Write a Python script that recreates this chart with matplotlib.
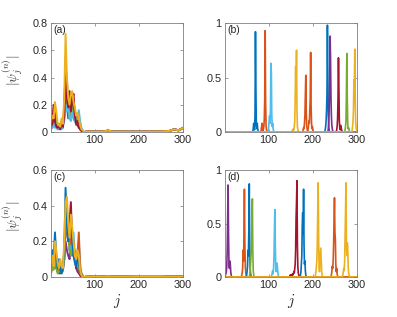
import matplotlib
matplotlib.use("Agg")
import matplotlib.pyplot as plt
import numpy as np

plt.rcParams['font.family'] = ['Liberation Sans', 'DejaVu Sans']
plt.rcParams['mathtext.fontset'] = 'cm'

# MATLAB default colour order
blue = '#0072BD'
orange = '#D95319'
yellow = '#EDB120'
purple = '#7E2F8E'
green = '#77AC30'
lblue = '#4DBEEE'
red = '#A2142F'

N = 300
j_all = np.arange(1, N + 1)

# ---- panels (a) and (c): extended states, sampled every 3 sites near the edge
j_head = np.arange(1, 80, 3)
j_tail = [82, 90, 100, 120, 130, 140, 200, 250, 270, 280, 290, 300]

a_colors = [blue, orange, purple, green, lblue, red, yellow]
a_head = [
    [.02, .10, .05, .12, .08, .03, .04, .02, .05, .03, .15, .30, .20, .10, .15, .12, .22, .10, .08, .12, .06, .10, .04, .02, .01, .00, .00],
    [.05, .03, .18, .10, .05, .02, .06, .03, .08, .04, .20, .45, .25, .15, .28, .20, .15, .25, .10, .05, .10, .05, .02, .01, .00, .00, .00],
    [.10, .05, .08, .14, .06, .04, .02, .05, .03, .06, .10, .55, .30, .20, .12, .22, .26, .18, .12, .08, .05, .03, .02, .01, .00, .00, .00],
    [.03, .08, .04, .06, .10, .05, .03, .02, .04, .08, .12, .35, .40, .15, .10, .18, .12, .20, .15, .10, .08, .06, .03, .01, .00, .00, .00],
    [.02, .04, .06, .03, .05, .02, .04, .03, .02, .05, .08, .20, .15, .25, .10, .08, .15, .12, .08, .06, .10, .16, .08, .03, .01, .00, .00],
    [.04, .06, .20, .08, .04, .03, .05, .02, .06, .04, .12, .40, .26, .18, .30, .15, .24, .28, .12, .06, .08, .04, .02, .01, .00, .00, .00],
    [.08, .12, .10, .22, .15, .06, .05, .04, .10, .06, .25, .72, .40, .25, .20, .28, .30, .22, .18, .12, .14, .10, .05, .02, .01, .00, .00],
]
a_tail = [.005, .003, .002, .004, .010, .003, .002, .004, .008, .020, .012, .030]

c_colors = [purple, red, lblue, orange, green, blue, yellow]
c_head = [
    [.10, .08, .05, .12, .06, .03, .02, .04, .03, .05, .10, .20, .15, .12, .10, .18, .12, .15, .10, .05, .03, .02, .01, .00, .00, .00, .00],
    [.04, .06, .10, .08, .05, .03, .05, .02, .06, .04, .10, .30, .25, .20, .30, .42, .20, .15, .10, .05, .08, .03, .01, .00, .00, .00, .00],
    [.05, .10, .08, .15, .10, .05, .04, .08, .05, .03, .12, .25, .35, .30, .15, .20, .15, .25, .12, .08, .15, .20, .08, .02, .01, .00, .00],
    [.02, .05, .12, .10, .06, .03, .06, .03, .05, .04, .15, .35, .30, .22, .18, .25, .15, .20, .10, .08, .12, .25, .05, .02, .00, .00, .00],
    [.03, .08, .04, .12, .05, .02, .03, .05, .02, .06, .10, .28, .40, .25, .15, .12, .18, .12, .15, .10, .06, .05, .02, .01, .00, .00, .00],
    [.06, .15, .10, .25, .12, .05, .10, .04, .02, .05, .15, .50, .30, .20, .25, .30, .22, .12, .08, .06, .10, .08, .03, .01, .00, .00, .00],
    [.08, .12, .06, .20, .15, .08, .05, .10, .06, .05, .20, .42, .45, .30, .22, .35, .28, .20, .12, .10, .15, .12, .04, .01, .00, .00, .00],
]
c_tail = [.004, .002, .001, .002, .005, .002, .001, .001, .002, .002, .002, .003]

# ---- panels (b) and (d): localized states (first site, values)
b_colors = [blue, orange, lblue, yellow, orange, orange, blue, purple, red, green, yellow]
b_start = [63, 82, 98, 152, 177, 188, 227, 234, 253, 272, 288]
b_vals = [
    [.00, .01, .03, .08, .04, .02, .15, .92, .40, .06, .03, .08, .03, .01, .00],
    [.00, .02, .05, .08, .03, .01, .02, .05, .12, .30, .93, .28, .06, .02, .01, .00],
    [.00, .02, .05, .10, .15, .08, .20, .63, .55, .15, .05, .08, .03, .01, .00],
    [.00, .01, .02, .01, .03, .02, .05, .10, .30, .60, .45, .75, .20, .05, .02, .01, .00],
    [.00, .02, .04, .03, .08, .15, .35, .52, .20, .06, .03, .01, .00],
    [.00, .02, .05, .10, .08, .20, .30, .73, .25, .08, .03, .05, .02, .00],
    [.00, .02, .05, .10, .20, .35, .98, .50, .15, .05, .02, .00],
    [.00, .03, .08, .20, .45, .88, .70, .33, .15, .06, .03, .01, .00],
    [.00, .02, .05, .12, .30, .68, .40, .10, .04, .02, .06, .05, .02, .01, .00],
    [.00, .02, .05, .10, .35, .72, .30, .08, .03, .04, .02, .00],
    [.00, .02, .05, .10, .20, .48, .40, .76, .30, .10, .04, .02, .01],
]

d_colors = [purple, orange, blue, green, lblue, red, blue, yellow, orange, yellow]
d_start = [2, 38, 49, 56, 106, 147, 171, 205, 241, 267]
d_vals = [
    [.02, .03, .05, .10, .25, .55, .86, .40, .12, .08, .15, .12, .05, .02, .00],
    [.00, .02, .04, .08, .25, .15, .40, .82, .30, .10, .04, .02, .00],
    [.00, .02, .05, .10, .25, .20, .45, .87, .30, .08, .03, .01, .00],
    [.00, .02, .05, .12, .20, .30, .55, .73, .25, .06, .02, .00],
    [.00, .02, .04, .06, .03, .08, .20, .45, .63, .30, .08, .05, .10, .13, .08, .03, .01, .00],
    [.00, .01, .02, .01, .02, .01, .02, .03, .02, .03, .05, .04, .08, .12, .25, .55, .70, .90, .30, .10, .04, .02, .01, .00],
    [.00, .02, .05, .12, .20, .48, .60, .40, .82, .30, .12, .15, .06, .02, .00],
    [.00, .02, .05, .10, .15, .30, .60, .88, .40, .10, .05, .12, .20, .27, .15, .05, .02, .00],
    [.00, .02, .05, .10, .08, .15, .30, .55, .74, .42, .35, .12, .05, .08, .03, .01, .00],
    [.00, .02, .05, .08, .06, .15, .35, .60, .88, .30, .20, .32, .28, .10, .04, .02, .00],
]


def style_axes(ax, ylim, yticks, ylabels, tag):
    ax.set_xlim(1, 300)
    ax.set_ylim(*ylim)
    ax.set_xticks([100, 200, 300])
    ax.set_yticks(yticks)
    ax.set_yticklabels(ylabels)
    ax.tick_params(direction='in', length=2.2, width=0.5, top=True, right=True,
                   labelsize=7.8, colors='0.45', labelcolor='#262626', pad=2.5)
    for s in ax.spines.values():
        s.set_color('0.5')
        s.set_linewidth(0.6)
    ax.text(0.015, 0.985, tag, transform=ax.transAxes, ha='left', va='top',
            fontsize=7.5, color='#262626')


def plot_extended(ax, heads, tail, colors):
    x = np.concatenate([j_head, j_tail])
    for vals, col in zip(heads, colors):
        ax.plot(x, np.concatenate([vals, tail]), color=col, lw=1.4)


def plot_localized(ax, starts, vals_list, colors):
    for st, vals, col in zip(starts, vals_list, colors):
        y = np.zeros(N)
        y[st - 1:st - 1 + len(vals)] = vals
        ax.plot(j_all, y, color=col, lw=1.2)


fig = plt.figure(figsize=(3.97, 3.17), dpi=100)
ax_a = fig.add_axes([51 / 397, 1 - 132 / 317, 132 / 397, 109 / 317])
ax_b = fig.add_axes([225 / 397, 1 - 132 / 317, 132 / 397, 109 / 317])
ax_c = fig.add_axes([51 / 397, 1 - 277 / 317, 132 / 397, 107 / 317])
ax_d = fig.add_axes([225 / 397, 1 - 277 / 317, 132 / 397, 107 / 317])

plot_extended(ax_a, a_head, a_tail, a_colors)
plot_localized(ax_b, b_start, b_vals, b_colors)
plot_extended(ax_c, c_head, c_tail, c_colors)
plot_localized(ax_d, d_start, d_vals, d_colors)

style_axes(ax_a, (0, 0.8), [0, 0.2, 0.4, 0.6, 0.8], ['0', '0.2', '0.4', '0.6', '0.8'], '(a)')
style_axes(ax_b, (0, 1), [0, 0.5, 1], ['0', '0.5', '1'], '(b)')
style_axes(ax_c, (0, 0.6), [0, 0.2, 0.4, 0.6], ['0', '0.2', '0.4', '0.6'], '(c)')
style_axes(ax_d, (0, 1), [0, 0.5, 1], ['0', '0.5', '1'], '(d)')

for ax in (ax_a, ax_c):
    ax.set_ylabel(r'$|\psi_j^{(n)}|$', fontsize=9.5, color='#262626')
    ax.yaxis.set_label_coords(-0.2, 0.57)
for ax in (ax_c, ax_d):
    ax.set_xlabel(r'$j$', fontsize=11, color='#262626', labelpad=1)

fig.savefig('out.png', dpi=100)
